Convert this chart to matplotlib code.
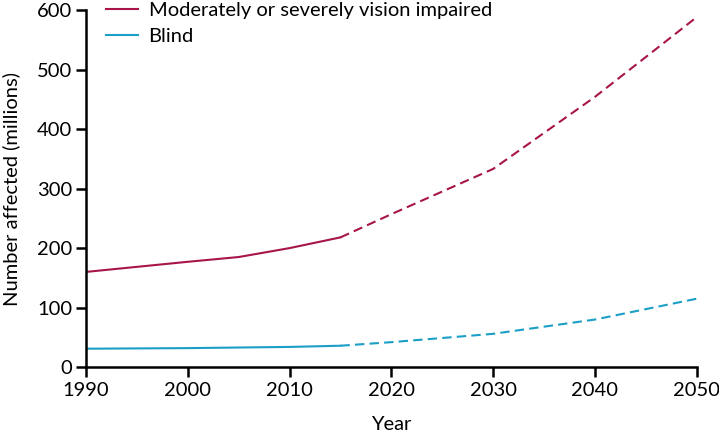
import matplotlib
matplotlib.use("Agg")
import matplotlib.pyplot as plt

plt.rcParams.update({
    "font.family": ["Lato", "DejaVu Sans"],
    "font.size": 14.5,
    "axes.spines.top": False,
    "axes.spines.right": False,
})

RED = "#A8154B"
BLUE = "#1B9FC6"

# estimates (solid) and projections (dashed)
years_est = [1990, 2000, 2005, 2010, 2015]
years_proj = [2015, 2020, 2030, 2040, 2050]
mod_sev_est = [160, 177, 185, 200, 218]
mod_sev_proj = [218, 257, 333, 454, 588]
blind_est = [31, 32, 33, 34, 36]
blind_proj = [36, 42, 56, 80, 115]

xticks = [1990, 2000, 2010, 2020, 2030, 2040, 2050]
yticks = [0, 100, 200, 300, 400, 500, 600]

fig = plt.figure(figsize=(7.19, 4.34), dpi=100)
ax = fig.add_axes([0.1196, 0.154, 0.8494, 0.823])

ax.plot(years_est, mod_sev_est, color=RED, lw=1.5,
        label="Moderately or severely vision impaired")
ax.plot(years_proj, mod_sev_proj, color=RED, lw=1.5, ls=(0, (4.5, 2.5)))
ax.plot(years_est, blind_est, color=BLUE, lw=1.5, label="Blind")
ax.plot(years_proj, blind_proj, color=BLUE, lw=1.5, ls=(0, (4.5, 2.5)))

ax.set_xlim(1990, 2050)
ax.set_ylim(0, 600)
ax.set_xticks(xticks)
ax.set_yticks(yticks)
ax.spines["left"].set_linewidth(1.8)
ax.spines["bottom"].set_linewidth(1.8)
ax.tick_params(direction="out", length=7, width=1.8, labelsize=14.5)
ax.tick_params(axis="x", pad=4)
ax.tick_params(axis="y", pad=3)
ax.set_xlabel("Year", fontsize=14.5, labelpad=12)
ax.set_ylabel("Number affected (millions)", fontsize=14.5, labelpad=12)

ax.legend(loc="upper left", bbox_to_anchor=(0.02, 1.045), frameon=False,
          handlelength=1.6, handletextpad=0.5, labelspacing=0.45,
          fontsize=14.5, borderaxespad=0)

fig.savefig("out.png", dpi=100)
